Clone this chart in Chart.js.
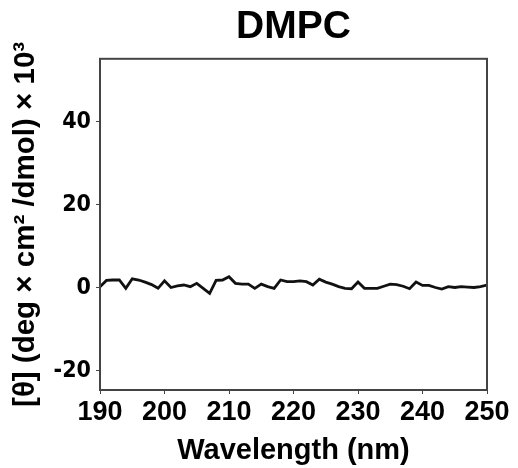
<!DOCTYPE html>
<html><head><meta charset="utf-8">
<script src="https://cdn.jsdelivr.net/npm/chart.js@4/dist/chart.umd.min.js"></script>
<style>html,body{margin:0;padding:0;background:#fff}#wrap{width:518px;height:468px}</style>
</head><body><div id="wrap"><canvas id="c" width="518" height="468"></canvas></div>
<script>
const wavelengths = [190,191,192,193,194,195,196,197,198,199,200,201,202,203,204,205,206,207,208,209,210,211,212,213,214,215,216,217,218,219,220,221,222,223,224,225,226,227,228,229,230,231,232,233,234,235,236,237,238,239,240,241,242,243,244,245,246,247,248,249,250];
const ellipticity = [0.3,1.8,1.9,1.9,-0.1,2.2,1.9,1.4,0.8,-0.1,1.7,0.1,0.5,0.7,0.3,1.1,-0.1,-1.3,1.8,1.9,2.7,1.1,0.9,0.9,-0.1,0.9,0.3,-0.1,1.9,1.5,1.5,1.7,1.5,0.7,2.1,1.4,0.9,0.3,-0.1,-0.2,1.4,-0.1,-0.1,-0.1,0.4,0.9,0.8,0.4,-0.2,1.4,0.6,0.6,0.1,-0.3,0.3,0.1,0.3,0.2,0.1,0.3,0.7];
const yTicks = [-20,0,20,40];
const xTicks = [190,200,210,220,230,240,250];
const titleText = 'DMPC';
const xTitle = 'Wavelength (nm)';
const yTitle = '[θ] (deg × cm² /dmol) × 10³';

const frame = {
  id:'frame',
  afterLayout(chart){
    const t = chart.titleBlock, a = chart.chartArea;
    if (t) { t.left = a.left; t.right = a.right; t.width = a.right - a.left; }
  },
  afterDatasetsDraw(chart){
    const a = chart.chartArea, ctx = chart.ctx;
    ctx.save();
    ctx.strokeStyle = '#444';
    ctx.lineWidth = 2;
    ctx.strokeRect(a.left, a.top, a.right-a.left, a.bottom-a.top);
    ctx.restore();
  }
};

new Chart(document.getElementById('c'), {
  type:'line',
  data:{ datasets:[{ data: wavelengths.map((w,i)=>({x:w,y:ellipticity[i]})), borderColor:'#111', borderWidth:2.8, pointRadius:0, tension:0, fill:false }]},
  options:{
    responsive:false, animation:false,
    layout:{ padding:{ left:0, right:31, top:0, bottom:0 } },
    plugins:{
      legend:{display:false}, tooltip:{enabled:false},
      title:{ display:true, text:titleText, color:'#000', font:{family:'Liberation Sans, Arial, sans-serif', size:39, weight:'bold', lineHeight:1.2}, padding:{top:4, bottom:8} }
    },
    scales:{
      x:{ type:'linear', min:190, max:250,
        afterBuildTicks(s){ s.ticks = xTicks.map(v=>({value:v})); },
        afterFit(s){ s.height = 78; },
        grid:{ drawOnChartArea:false, drawTicks:true, tickLength:4, color:'#444' },
        border:{ display:true, color:'#444', width:2 },
        ticks:{ color:'#000', padding:2, maxRotation:0, font:{family:'Liberation Sans, Arial, sans-serif', size:27, weight:'bold', lineHeight:1.2} },
        title:{ display:true, text:xTitle, color:'#000', padding:{top:0,bottom:0}, font:{family:'Liberation Sans, Arial, sans-serif', size:29, weight:'bold', lineHeight:1.2} }
      },
      y:{ type:'linear', min:-24.6, max:55.2,
        afterBuildTicks(s){ s.ticks = yTicks.map(v=>({value:v})); },
        afterFit(s){ s.width = 100; },
        grid:{ drawOnChartArea:false, drawTicks:true, tickLength:4, color:'#444' },
        border:{ display:true, color:'#444', width:2 },
        ticks:{ color:'#000', padding:5, font:{family:'DejaVu Sans Condensed, Liberation Sans Narrow, Liberation Sans, sans-serif', size:23, weight:'bold'} },
        title:{ display:true, text:yTitle, color:'#000', padding:{top:8,bottom:0}, font:{family:'Liberation Sans, Arial, sans-serif', size:29.5, weight:'bold', lineHeight:1.2} }
      }
    }
  },
  plugins:[frame]
});
</script></body></html>
